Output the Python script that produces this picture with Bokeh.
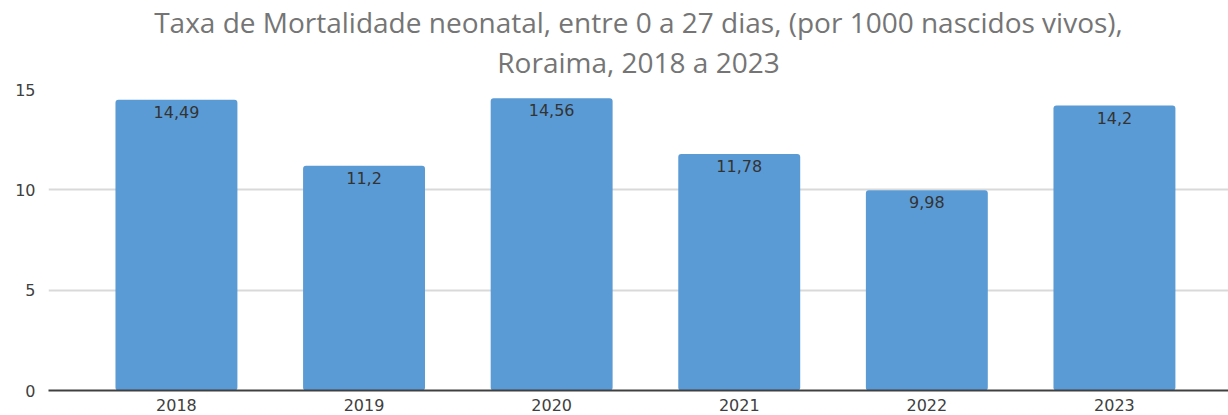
from bokeh.plotting import figure
from bokeh.models import Title, FixedTicker, Range1d, ColumnDataSource
from bokeh.embed import file_html
from bokeh.resources import INLINE
from bokeh.core.properties import value

years = ["2018", "2019", "2020", "2021", "2022", "2023"]
rates = [14.49, 11.2, 14.56, 11.78, 9.98, 14.2]
y_ticks = [0, 5, 10, 15]
title_lines = ["Taxa de Mortalidade neonatal, entre 0 a 27 dias, (por 1000 nascidos vivos),",
               "Roraima, 2018 a 2023"]

xs = list(range(len(years)))
labels = [("%g" % v).replace(".", ",") for v in rates]
src = ColumnDataSource(dict(x=xs, top=rates, label=labels))

p = figure(width=1228, height=415, output_backend="svg", toolbar_location=None,
           x_range=Range1d(-0.682, 5.608), y_range=Range1d(0, 15),
           min_border_left=48, min_border_right=0, min_border_top=89,
           min_border_bottom=25)
p.outline_line_color = None
p.background_fill_color = "white"
p.border_fill_color = "white"

p.add_layout(Title(text=" ", text_font_size="7px", standoff=0), "above")
p.add_layout(Title(text=title_lines[1], align="center",
                   text_font="Open Sans", text_font_size="28px",
                   text_color="#757575", text_font_style="normal",
                   standoff=0, offset=0), "above")
p.add_layout(Title(text=title_lines[0], align="center",
                   text_font="Open Sans", text_font_size="28px",
                   text_color="#757575", text_font_style="normal",
                   standoff=0, offset=0), "above")

p.vbar(x="x", top="top", width=0.65, bottom=0, source=src,
       fill_color="#5b9bd5", line_color=None, border_radius=3)
p.text(x="x", y="top", text="label", source=src, text_align="center",
       text_baseline="top", y_offset=6, text_font=value("DejaVu Sans"),
       text_font_size="16px", text_color="#333333")

p.xaxis.ticker = FixedTicker(ticks=xs)
p.xaxis.major_label_overrides = {i: y for i, y in enumerate(years)}
p.xaxis.major_tick_line_color = None
p.xaxis.minor_tick_line_color = None
p.xaxis.major_tick_out = 0
p.xaxis.axis_line_color = "#404040"
p.xaxis.axis_line_width = 2
p.xaxis.major_label_standoff = 8
p.xaxis.major_label_text_font = "DejaVu Sans"
p.xaxis.major_label_text_font_size = "16px"
p.xaxis.major_label_text_color = "#404040"

p.yaxis.ticker = FixedTicker(ticks=y_ticks)
p.yaxis.axis_line_color = None
p.yaxis.major_tick_line_color = None
p.yaxis.minor_tick_line_color = None
p.yaxis.major_tick_out = 0
p.yaxis.major_label_standoff = 13
p.yaxis.major_label_text_font = "DejaVu Sans"
p.yaxis.major_label_text_font_size = "16px"
p.yaxis.major_label_text_color = "#404040"

p.xgrid.grid_line_color = None
p.ygrid.ticker = FixedTicker(ticks=y_ticks)
p.ygrid.grid_line_color = "#d9d9d9"
p.ygrid.grid_line_width = 2

open("out.html", "w").write(file_html(p, INLINE))
